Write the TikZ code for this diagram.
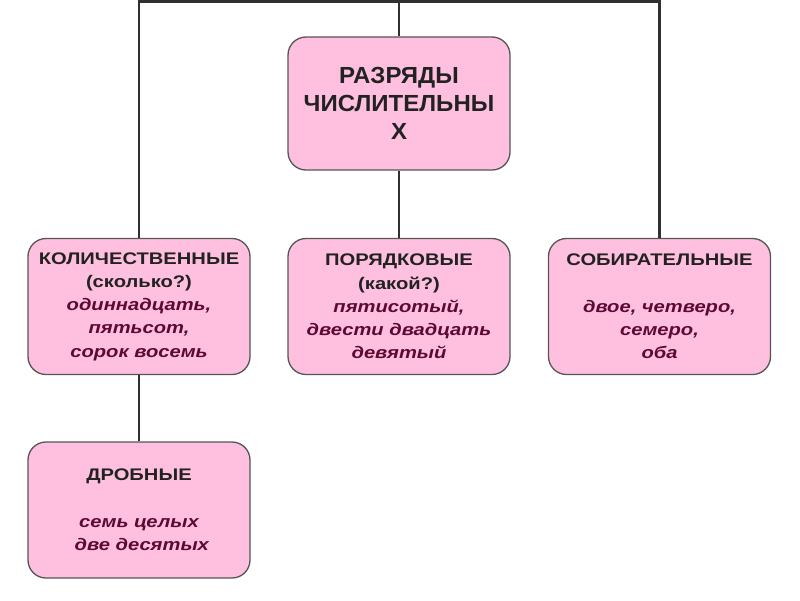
\documentclass[tikz,border=0pt]{standalone}
\usepackage{fontspec}
\setmainfont{Liberation Sans}
\newfontfamily\smallfont{Liberation Sans}[FakeStretch=1.2]
\newfontfamily\mainfont{Liberation Sans}[FakeStretch=1.03]
\definecolor{boxfill}{HTML}{FFC0E0}
\definecolor{boxdraw}{HTML}{555555}
\definecolor{ital}{HTML}{5C0A33}
\definecolor{head}{HTML}{222222}
\definecolor{wire}{HTML}{303030}
\tikzset{
  box/.style={draw=boxdraw, line width=1.3pt, fill=boxfill, rounded corners=18pt,
    minimum width=222pt, minimum height=136pt, align=center, inner sep=0pt,
    text=head, font=\smallfont\bfseries\fontsize{16.8}{23.2}\selectfont},
  mainbox/.style={box, minimum height=133pt, font=\mainfont\bfseries\fontsize{23.3}{28}\selectfont},
  wireline/.style={draw=wire, line width=2.6pt},
}
\newcommand{\ex}[1]{{\color{ital}\itshape #1}}
\begin{document}
\begin{tikzpicture}[x=1pt,y=-1pt]
\useasboundingbox (0,0) rectangle (800,600);
\node[mainbox] (main) at (399,103.5) {РАЗРЯДЫ\\ЧИСЛИТЕЛЬНЫ\\Х};
\node[box] (kol) at (139,306.5) {КОЛИЧЕСТВЕННЫЕ\\(сколько?)\\\ex{одиннадцать,}\\\ex{пятьсот,}\\\ex{сорок восемь}};
\node[box] (por) at (399,306.5) {ПОРЯДКОВЫЕ\\(какой?)\\\ex{пятисотый,}\\\ex{двести двадцать}\\\ex{девятый}};
\node[box] (sob) at (659.5,306.5) {СОБИРАТЕЛЬНЫЕ\\[23.2pt]\ex{двое, четверо,}\\\ex{семеро,}\\\ex{оба}};
\node[box] (drob) at (139,510) {ДРОБНЫЕ\\[24pt]\ex{семь целых}\\\ex{\ две десятых}};
\coordinate (top) at (400,1.3);
\draw[wireline] (kol.north) -- (kol.north |- top) -- (sob.north |- top) -- (sob.north);
\draw[wireline] (main.north) -- (main.north |- top);
\draw[wireline] (main.south) -- (por.north);
\draw[wireline] (kol.south) -- (drob.north);
\end{tikzpicture}
\end{document}
